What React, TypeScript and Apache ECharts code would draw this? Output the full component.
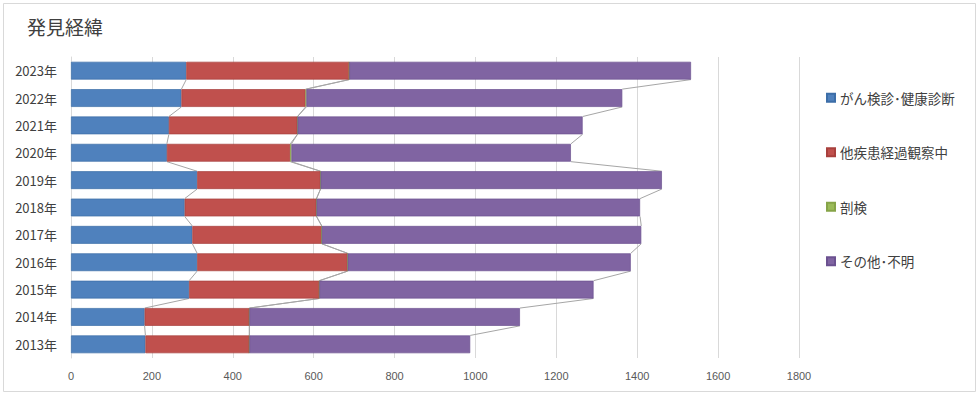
import React, { useEffect, useRef } from "react";
import * as echarts from "echarts";

const years = ["2013年", "2014年", "2015年", "2016年", "2017年", "2018年", "2019年", "2020年", "2021年", "2022年", "2023年"];
const screening = [184, 182, 292, 312, 300, 281, 312, 237, 242, 273, 285];
const otherDisease = [257, 259, 322, 372, 320, 326, 305, 305, 318, 307, 403];
const autopsy = [0, 0, 0, 0, 0, 0, 0, 3, 0, 2, 0];
const otherUnknown = [546, 669, 678, 700, 790, 800, 844, 691, 705, 781, 845];
const xTicks = [0, 200, 400, 600, 800, 1000, 1200, 1400, 1600, 1800];

const seriesNames = ["がん検診･健康診断", "他疾患経過観察中", "剖検", "その他･不明"];
const colors = ["#4F81BD", "#C0504D", "#9BBB59", "#8064A2"];
const borders = ["#3C6EA8", "#A8403D", "#86A448", "#6B5190"];

export default function App() {
  const ref = useRef<HTMLDivElement>(null);
  useEffect(() => {
    document.body.style.margin = "0";
    const chart = echarts.init(ref.current!, null, { renderer: "svg" });
    const all = [screening, otherDisease, autopsy, otherUnknown];
    const lineData: number[][] = [];
    for (let i = 0; i < years.length - 1; i++) {
      let c0 = 0, c1 = 0;
      for (let s = 0; s < all.length; s++) {
        c0 += all[s][i];
        c1 += all[s][i + 1];
        lineData.push([i, c0, c1]);
      }
    }
    const barRatio = 0.65;
    chart.setOption({
      animation: false,
      title: {
        text: "発見経緯",
        left: 22,
        top: 12,
        textStyle: { fontSize: 19, fontWeight: "normal", color: "#404040", fontFamily: "Noto Sans CJK JP" },
      },
      legend: {
        orient: "vertical",
        left: 821,
        top: 86,
        itemGap: 41,
        itemWidth: 8,
        itemHeight: 8,
        icon: "rect",
        data: seriesNames,
        textStyle: { fontSize: 13.5, color: "#404040", fontFamily: "Noto Sans CJK JP" },
      },
      graphic: [
        {
          type: "rect",
          shape: { x: 3.5, y: 3.5, width: 972, height: 388 },
          style: { fill: "none", stroke: "#D9D9D9", lineWidth: 1 },
          silent: true,
        },
      ],
      grid: { left: 71, right: 181, top: 57, bottom: 39 },
      xAxis: {
        type: "value",
        min: xTicks[0],
        max: xTicks[xTicks.length - 1],
        interval: 200,
        axisLine: { show: false },
        axisTick: { show: false },
        splitLine: { lineStyle: { color: "#D9D9D9" } },
        axisLabel: {
          fontSize: 11,
          color: "#595959",
          margin: 12,
          fontFamily: "Liberation Sans Narrow, Liberation Sans",
          formatter: (v: number) => String(v),
        },
      },
      yAxis: {
        type: "category",
        data: years,
        axisLine: { show: true, lineStyle: { color: "#D9D9D9" } },
        axisTick: { show: false },
        axisLabel: { fontSize: 13, color: "#404040", margin: 14, fontFamily: "Noto Sans CJK JP" },
      },
      series: [
        ...all.map((d, k) => ({
          name: seriesNames[k],
          type: "bar",
          stack: "total",
          data: d,
          barWidth: "65%",
          itemStyle: { color: colors[k], borderColor: borders[k], borderWidth: 0.7 },
        })),
        {
          type: "custom",
          silent: true,
          z: 1,
          data: lineData,
          encode: { x: [1, 2], y: 0 },
          renderItem: (params: any, api: any) => {
            const i = api.value(0);
            const v0 = api.value(1);
            const v1 = api.value(2);
            const p0 = api.coord([v0, i]);
            const p1 = api.coord([v1, i + 1]);
            const h = (api.size([0, 1])[1] * barRatio) / 2;
            return {
              type: "line",
              shape: { x1: p0[0], y1: p0[1] - h, x2: p1[0], y2: p1[1] + h },
              style: { stroke: "#A6A6A6", lineWidth: 1 },
            };
          },
        },
      ],
    });
    return () => chart.dispose();
  }, []);
  return <div ref={ref} style={{ width: 980, height: 397 }} />;
}
